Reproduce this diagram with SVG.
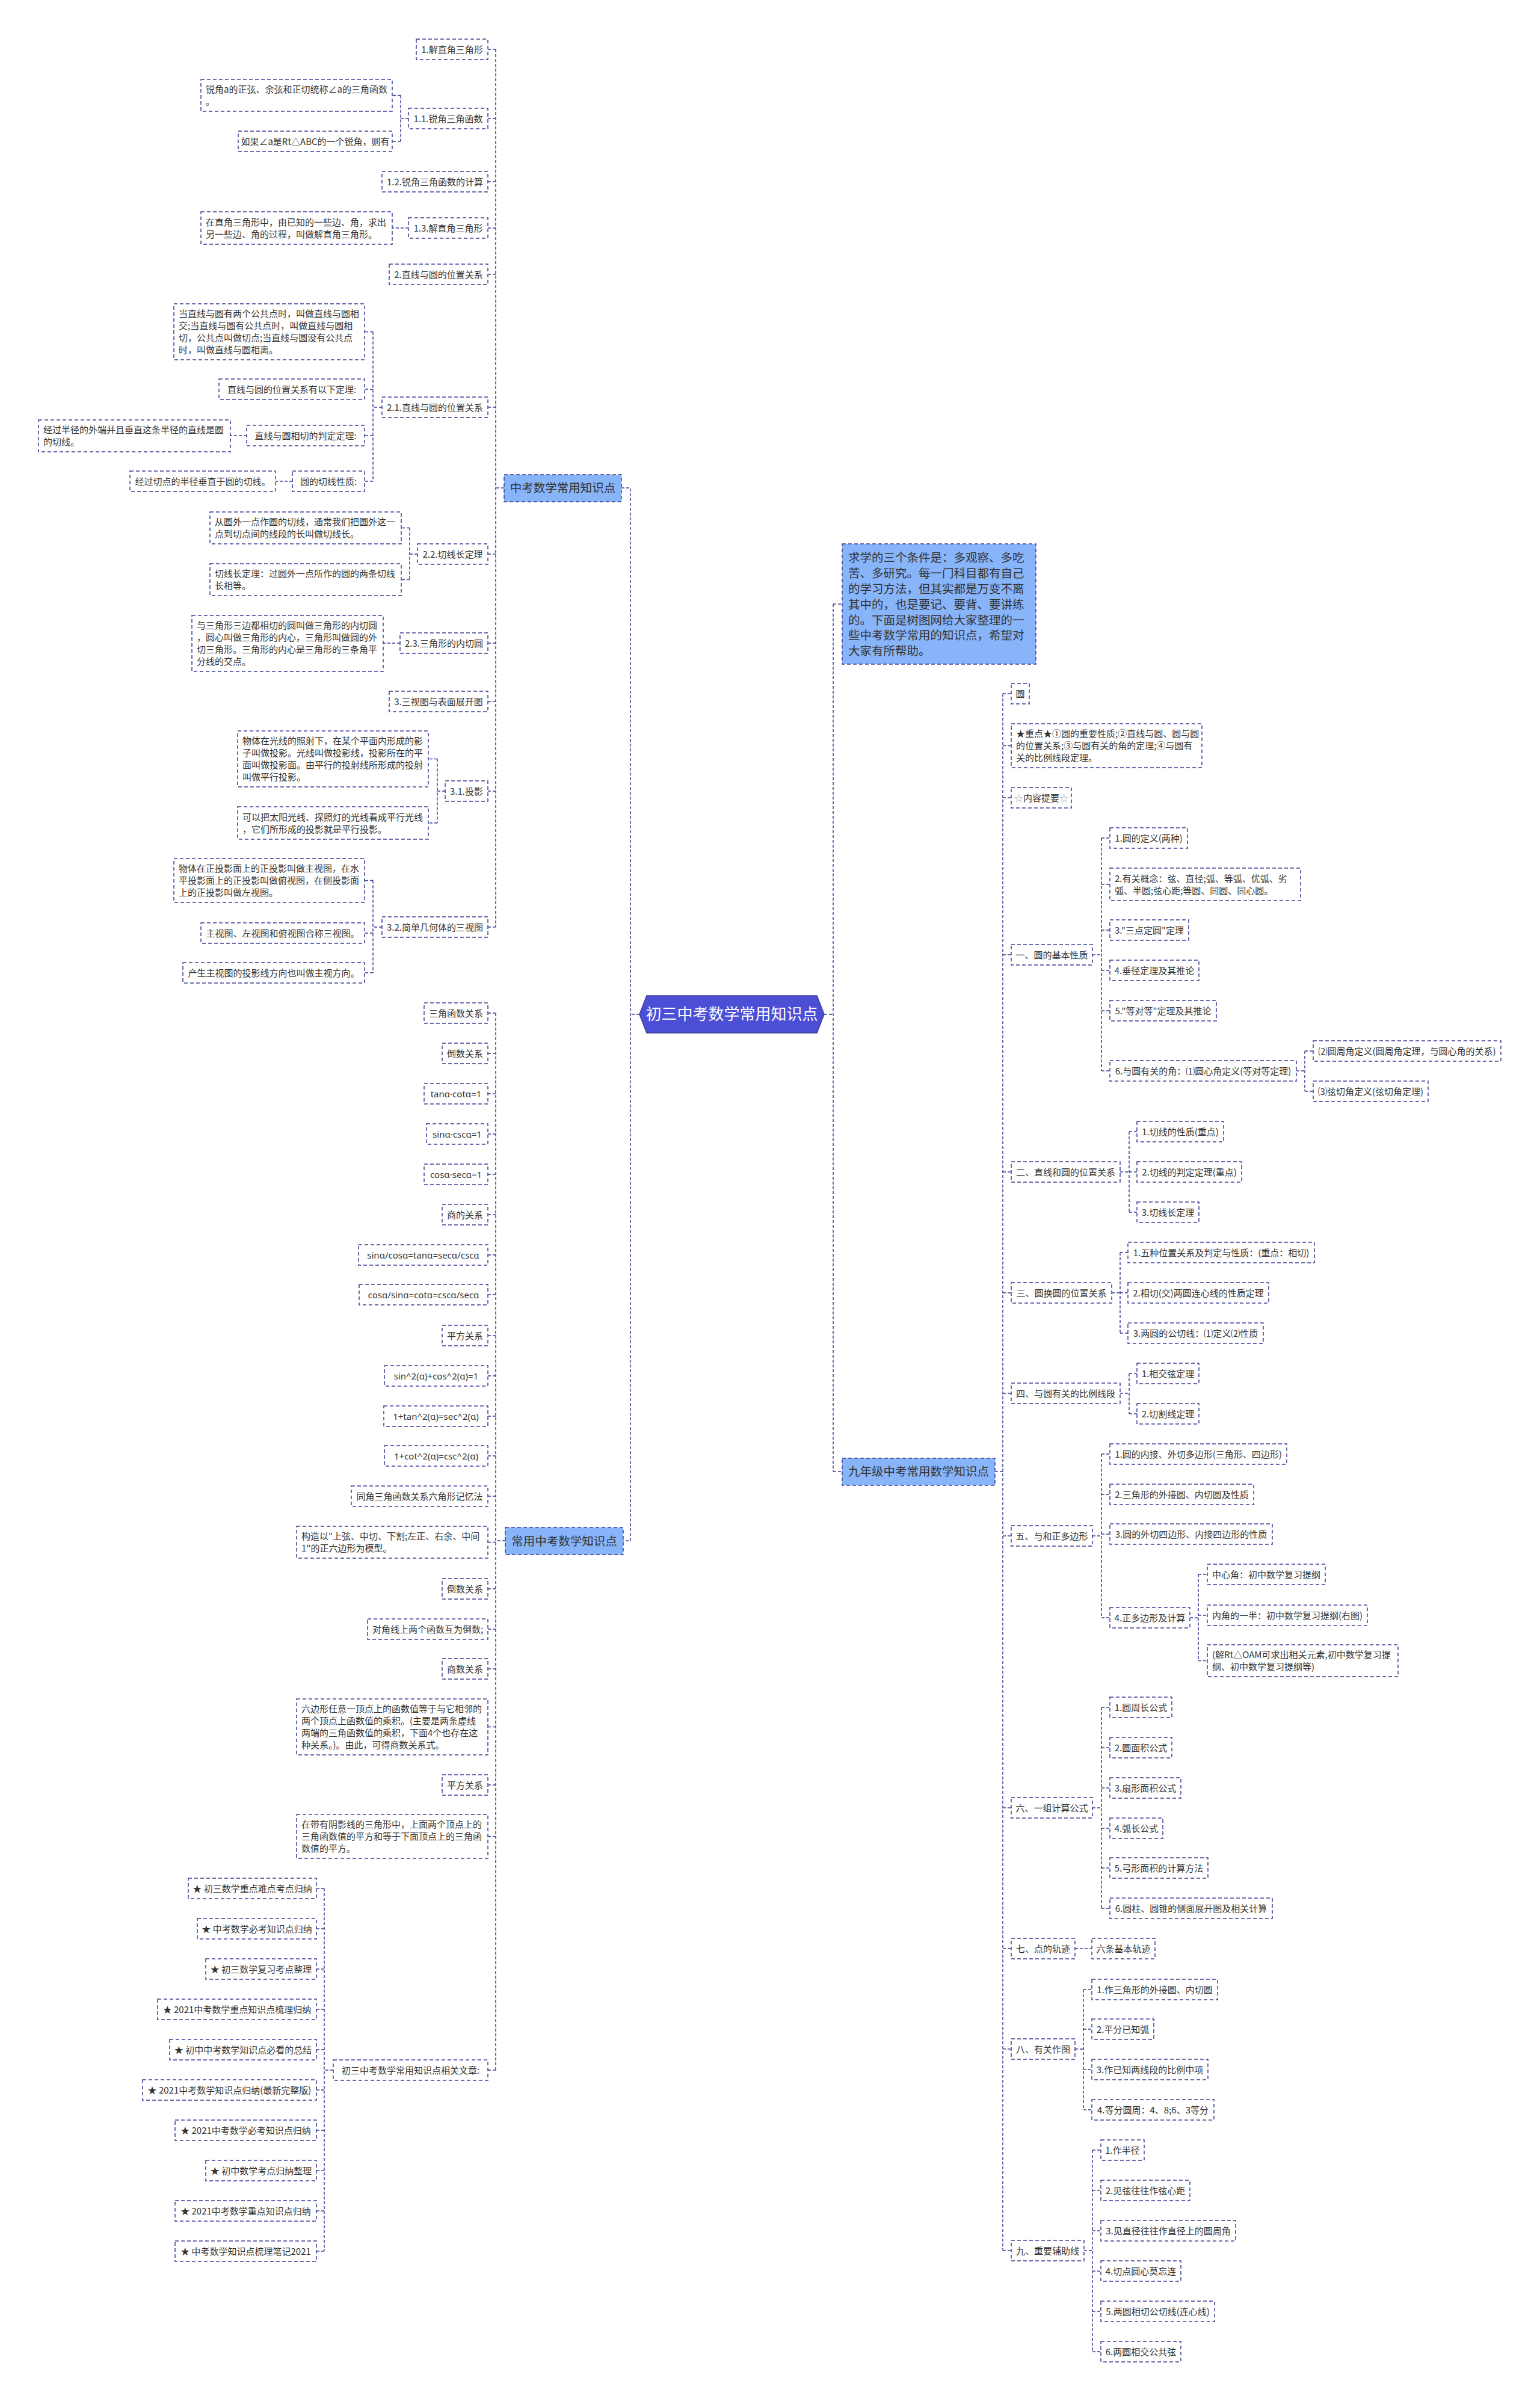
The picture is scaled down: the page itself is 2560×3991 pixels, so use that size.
<svg xmlns="http://www.w3.org/2000/svg" width="2560" height="3991" viewBox="0 0 2560 3991">
<style>
.n{fill:#fff;stroke:#3d3d94;stroke-width:1.5;stroke-dasharray:6 4}
.b{fill:#88b4fa;stroke:#3d3d94;stroke-width:1.5;stroke-dasharray:6 4}
.t{font-family:"Noto Sans CJK SC","Noto Sans",sans-serif;font-size:15px;fill:#333}
.f{font-family:"Noto Sans","Liberation Sans",sans-serif;font-size:15px;fill:#333}
.m{text-anchor:middle}
.bt{font-family:"Noto Sans CJK SC","Noto Sans",sans-serif;font-size:19.5px;fill:#333}
.c{fill:none;stroke:#3d3d94;stroke-width:1.5;stroke-dasharray:5 3}
.g{fill:#aaa}
</style>
<rect width="2560" height="3991" fill="#fff"/>
<g id="connectors" class="c">
<path d="M838 811H824M824 82V1541M824 82H811M824 197H811M824 302H811M824 379H811M824 456H811M824 677H811M824 921H811M824 1069H811M824 1166H811M824 1315H811M824 1541H811"/>
<path d="M679 197H666M666 158.5V235M666 158.5H652M666 235H652M679 379H652"/>
<path d="M635 677H620M620 551.5V800M620 551.5H606M620 647H606M620 724H606M620 800H606M410 724H383M486 800H458"/>
<path d="M694 921H681M681 877.5V963.5M681 877.5H667M681 963.5H667M665 1069H637"/>
<path d="M740 1315H727M727 1261.5V1368M727 1261.5H712M727 1368H712"/>
<path d="M635 1541H620M620 1463.5V1617M620 1463.5H606M620 1551H606M620 1617H606"/>
<path d="M1033 811H1048V2561H1036M1063 1686H1048"/>
<path d="M840 2561H824M824 1684V3441M824 1684H811M824 1751H811M824 1818H811M824 1885H811M824 1952H811M824 2019H811M824 2086H811M824 2152H811M824 2220H811M824 2287H811M824 2354H811M824 2420H811M824 2487H811M824 2563.5H811M824 2641H811M824 2708H811M824 2774H811M824 2870.5H811M824 2967H811M824 3052.5H811M824 3441H811"/>
<path d="M554 3441H539M539 3139V3742M539 3139H526M539 3206H526M539 3273H526M539 3340H526M539 3407H526M539 3474H526M539 3541H526M539 3608H526M539 3675H526M539 3742H526"/>
<path d="M1370 1686H1385M1385 1004V2446M1385 1004H1400M1385 2446H1400"/>
<path d="M1654 2446H1667M1667 1153V3741M1667 1153H1681M1667 1239.5H1681M1667 1326H1681M1667 1587H1681M1667 1948H1681M1667 2149H1681M1667 2316H1681M1667 2553H1681M1667 3005H1681M1667 3239H1681M1667 3406H1681M1667 3741H1681"/>
<path d="M1816 1587H1831M1831 1393V1780M1831 1393H1845M1831 1470H1845M1831 1546H1845M1831 1613H1845M1831 1680H1845M1831 1780H1845"/>
<path d="M2155 1780H2169M2169 1747V1814M2169 1747H2183M2169 1814H2183"/>
<path d="M1862 1948H1877M1877 1881V2015M1877 1881H1890M1877 2015H1890M1877 1948H1890"/>
<path d="M1848 2149H1862M1862 2082V2216M1862 2082H1875M1862 2149H1875M1862 2216H1875"/>
<path d="M1862 2316H1877M1877 2283V2350M1877 2283H1890M1877 2350H1890"/>
<path d="M1816 2553H1831M1831 2417V2689M1831 2417H1845M1831 2484H1845M1831 2550H1845M1831 2689H1845"/>
<path d="M1978 2689H1992M1992 2617V2760.5M1992 2617H2007M1992 2685H2007M1992 2760.5H2007"/>
<path d="M1816 3005H1831M1831 2838V3172M1831 2838H1845M1831 2905H1845M1831 2972H1845M1831 3039H1845M1831 3105H1845M1831 3172H1845"/>
<path d="M1787 3239H1815"/>
<path d="M1787 3406H1801M1801 3307V3507M1801 3307H1815M1801 3373H1815M1801 3440H1815M1801 3507H1815"/>
<path d="M1802 3741H1816M1816 3574V3909M1816 3574H1830M1816 3641H1830M1816 3708H1830M1816 3775H1830M1816 3842H1830M1816 3909H1830"/>
</g>

<g id="center"><polygon points="1063,1686 1075,1655 1358,1655 1370,1686 1358,1717 1075,1717" fill="#4a4fd6" stroke="#3d3d94" stroke-width="1.5"/><text x="1216.5" y="1695" text-anchor="middle" style="font-family:'Noto Sans CJK SC',sans-serif;font-size:26px;fill:#fff">初三中考数学常用知识点</text></g>

<g id="b1"><rect class="b" x="838" y="789" width="195" height="45"/><text class="bt m" x="935.5" y="818">中考数学常用知识点</text></g>
<g id="b2"><rect class="b" x="840" y="2539" width="196" height="45"/><text class="bt m" x="938" y="2568.5">常用中考数学知识点</text></g>
<g id="b3"><rect class="b" x="1400" y="2424" width="254" height="45"/><text class="bt m" x="1527" y="2453">九年级中考常用数学知识点</text></g>
<g id="intro"><rect class="b" x="1400" y="904" width="322" height="200"/><text class="bt" x="1410"><tspan x="1410" y="934">求学的三个条件是：多观察、多吃</tspan><tspan x="1410" y="960">苦、多研究。每一门科目都有自己</tspan><tspan x="1410" y="986">的学习方法，但其实都是万变不离</tspan><tspan x="1410" y="1012">其中的，也是要记、要背、要讲练</tspan><tspan x="1410" y="1038">的。下面是树图网给大家整理的一</tspan><tspan x="1410" y="1063">些中考数学常用的知识点，希望对</tspan><tspan x="1410" y="1089">大家有所帮助。</tspan></text></g>

<g id="L1"><rect class="n" x="692" y="65" width="119" height="34"/><text class="t m" x="751.5" y="87.5">1.解直角三角形</text></g>
<g id="L11"><rect class="n" x="679" y="180" width="132" height="34"/><text class="t m" x="745" y="202.5">1.1.锐角三角函数</text></g>
<g id="L11a"><rect class="n" x="334" y="132" width="318" height="53"/><text class="t"><tspan x="342" y="154">锐角a的正弦、余弦和正切统称∠a的三角函数</tspan><tspan x="342" y="174">。</tspan></text></g>
<g id="L11b"><rect class="n" x="396" y="218" width="256" height="34"/><text class="t m" x="524" y="240.5">如果∠a是Rt△ABC的一个锐角，则有</text></g>
<g id="L12"><rect class="n" x="635" y="285" width="176" height="34"/><text class="t m" x="723" y="307.5">1.2.锐角三角函数的计算</text></g>
<g id="L13"><rect class="n" x="679" y="362" width="132" height="34"/><text class="t m" x="745" y="384.5">1.3.解直角三角形</text></g>
<g id="L13a"><rect class="n" x="334" y="352" width="318" height="54"/><text class="t"><tspan x="342" y="374.5">在直角三角形中，由已知的一些边、角，求出</tspan><tspan x="342" y="394.5">另一些边、角的过程，叫做解直角三角形。</tspan></text></g>
<g id="L2"><rect class="n" x="647" y="439" width="164" height="34"/><text class="t m" x="729" y="461.5">2.直线与圆的位置关系</text></g>
<g id="L21"><rect class="n" x="635" y="660" width="176" height="34"/><text class="t m" x="723" y="682.5">2.1.直线与圆的位置关系</text></g>
<g id="L21a"><rect class="n" x="289" y="505" width="317" height="93"/><text class="t"><tspan x="297" y="527">当直线与圆有两个公共点时，叫做直线与圆相</tspan><tspan x="297" y="547">交;当直线与圆有公共点时，叫做直线与圆相</tspan><tspan x="297" y="567">切，公共点叫做切点;当直线与圆没有公共点</tspan><tspan x="297" y="587">时，叫做直线与圆相离。</tspan></text></g>
<g id="L21b"><rect class="n" x="364" y="630" width="242" height="34"/><text class="t m" x="485" y="652.5">直线与圆的位置关系有以下定理:</text></g>
<g id="L21c"><rect class="n" x="410" y="707" width="196" height="34"/><text class="t m" x="508" y="729.5">直线与圆相切的判定定理:</text></g>
<g id="L21c1"><rect class="n" x="64" y="698" width="319" height="53"/><text class="t"><tspan x="72" y="720">经过半径的外端并且垂直这条半径的直线是圆</tspan><tspan x="72" y="740">的切线。</tspan></text></g>
<g id="L21d"><rect class="n" x="486" y="783" width="120" height="34"/><text class="t m" x="546" y="805.5">圆的切线性质:</text></g>
<g id="L21d1"><rect class="n" x="216" y="783" width="242" height="34"/><text class="t m" x="337" y="805.5">经过切点的半径垂直于圆的切线。</text></g>
<g id="L22"><rect class="n" x="694" y="904" width="117" height="34"/><text class="t m" x="752.5" y="926.5">2.2.切线长定理</text></g>
<g id="L22a"><rect class="n" x="349" y="851" width="318" height="53"/><text class="t"><tspan x="357" y="873">从圆外一点作圆的切线，通常我们把圆外这一</tspan><tspan x="357" y="893">点到切点间的线段的长叫做切线长。</tspan></text></g>
<g id="L22b"><rect class="n" x="349" y="937" width="318" height="53"/><text class="t"><tspan x="357" y="959">切线长定理：过圆外一点所作的圆的两条切线</tspan><tspan x="357" y="979">长相等。</tspan></text></g>
<g id="L23"><rect class="n" x="665" y="1052" width="146" height="34"/><text class="t m" x="738" y="1074.5">2.3.三角形的内切圆</text></g>
<g id="L23a"><rect class="n" x="319" y="1023" width="318" height="93"/><text class="t"><tspan x="327" y="1045">与三角形三边都相切的圆叫做三角形的内切圆</tspan><tspan x="327" y="1065">，圆心叫做三角形的内心，三角形叫做圆的外</tspan><tspan x="327" y="1085">切三角形。三角形的内心是三角形的三条角平</tspan><tspan x="327" y="1105">分线的交点。</tspan></text></g>
<g id="L3"><rect class="n" x="647" y="1149" width="164" height="34"/><text class="t m" x="729" y="1171.5">3.三视图与表面展开图</text></g>
<g id="L31"><rect class="n" x="740" y="1298" width="71" height="34"/><text class="t m" x="775.5" y="1320.5">3.1.投影</text></g>
<g id="L31a"><rect class="n" x="395" y="1215" width="317" height="93"/><text class="t"><tspan x="403" y="1237">物体在光线的照射下，在某个平面内形成的影</tspan><tspan x="403" y="1257">子叫做投影。光线叫做投影线，投影所在的平</tspan><tspan x="403" y="1277">面叫做投影面。由平行的投射线所形成的投射</tspan><tspan x="403" y="1297">叫做平行投影。</tspan></text></g>
<g id="L31b"><rect class="n" x="395" y="1341" width="317" height="54"/><text class="t"><tspan x="403" y="1363.5">可以把太阳光线、探照灯的光线看成平行光线</tspan><tspan x="403" y="1383.5">，它们所形成的投影就是平行投影。</tspan></text></g>
<g id="L32"><rect class="n" x="635" y="1524" width="176" height="34"/><text class="t m" x="723" y="1546.5">3.2.简单几何体的三视图</text></g>
<g id="L32a"><rect class="n" x="289" y="1427" width="317" height="73"/><text class="t"><tspan x="297" y="1449">物体在正投影面上的正投影叫做主视图，在水</tspan><tspan x="297" y="1469">平投影面上的正投影叫做俯视图，在侧投影面</tspan><tspan x="297" y="1489">上的正投影叫做左视图。</tspan></text></g>
<g id="L32b"><rect class="n" x="334" y="1534" width="272" height="34"/><text class="t m" x="470" y="1556.5">主视图、左视图和俯视图合称三视图。</text></g>
<g id="L32c"><rect class="n" x="304" y="1600" width="302" height="34"/><text class="t m" x="455" y="1622.5">产生主视图的投影线方向也叫做主视方向。</text></g>

<g id="S1"><rect class="n" x="705" y="1667" width="106" height="34"/><text class="t m" x="758" y="1689.5">三角函数关系</text></g>
<g id="S2"><rect class="n" x="735" y="1734" width="76" height="34"/><text class="t m" x="773" y="1756.5">倒数关系</text></g>
<g id="S3"><rect class="n" x="705" y="1801" width="106" height="34"/><text class="f m" x="758" y="1823.5">tanα·cotα=1</text></g>
<g id="S4"><rect class="n" x="709" y="1868" width="102" height="34"/><text class="f m" x="760" y="1890.5">sinα·cscα=1</text></g>
<g id="S5"><rect class="n" x="705" y="1935" width="106" height="34"/><text class="f m" x="758" y="1957.5">cosα·secα=1</text></g>
<g id="S6"><rect class="n" x="735" y="2002" width="76" height="34"/><text class="t m" x="773" y="2024.5">商的关系</text></g>
<g id="S7"><rect class="n" x="596" y="2069" width="215" height="34"/><text class="f m" x="703.5" y="2091.5">sinα/cosα=tanα=secα/cscα</text></g>
<g id="S8"><rect class="n" x="597" y="2135" width="214" height="34"/><text class="f m" x="704" y="2157.5">cosα/sinα=cotα=cscα/secα</text></g>
<g id="S9"><rect class="n" x="735" y="2203" width="76" height="34"/><text class="t m" x="773" y="2225.5">平方关系</text></g>
<g id="S10"><rect class="n" x="639" y="2270" width="172" height="34"/><text class="f m" x="725" y="2292.5">sin^2(α)+cos^2(α)=1</text></g>
<g id="S11"><rect class="n" x="638" y="2337" width="173" height="34"/><text class="f m" x="724.5" y="2359.5">1+tan^2(α)=sec^2(α)</text></g>
<g id="S12"><rect class="n" x="639" y="2403" width="172" height="34"/><text class="f m" x="725" y="2425.5">1+cot^2(α)=csc^2(α)</text></g>
<g id="S13"><rect class="n" x="584" y="2470" width="227" height="34"/><text class="t m" x="697.5" y="2492.5">同角三角函数关系六角形记忆法</text></g>
<g id="S14"><rect class="n" x="493" y="2537" width="318" height="53"/><text class="t"><tspan x="501" y="2559">构造以"上弦、中切、下割;左正、右余、中间</tspan><tspan x="501" y="2579">1"的正六边形为模型。</tspan></text></g>
<g id="S15"><rect class="n" x="735" y="2624" width="76" height="34"/><text class="t m" x="773" y="2646.5">倒数关系</text></g>
<g id="S16"><rect class="n" x="611" y="2691" width="200" height="34"/><text class="t m" x="711" y="2713.5">对角线上两个函数互为倒数;</text></g>
<g id="S17"><rect class="n" x="735" y="2757" width="76" height="34"/><text class="t m" x="773" y="2779.5">商数关系</text></g>
<g id="S18"><rect class="n" x="493" y="2824" width="318" height="93"/><text class="t"><tspan x="501" y="2846">六边形任意一顶点上的函数值等于与它相邻的</tspan><tspan x="501" y="2866">两个顶点上函数值的乘积。(主要是两条虚线</tspan><tspan x="501" y="2886">两端的三角函数值的乘积，下面4个也存在这</tspan><tspan x="501" y="2906">种关系。)。由此，可得商数关系式。</tspan></text></g>
<g id="S19"><rect class="n" x="735" y="2950" width="76" height="34"/><text class="t m" x="773" y="2972.5">平方关系</text></g>
<g id="S20"><rect class="n" x="493" y="3016" width="318" height="73"/><text class="t"><tspan x="501" y="3038">在带有阴影线的三角形中，上面两个顶点上的</tspan><tspan x="501" y="3058">三角函数值的平方和等于下面顶点上的三角函</tspan><tspan x="501" y="3078">数值的平方。</tspan></text></g>
<g id="S21"><rect class="n" x="554" y="3424" width="257" height="34"/><text class="t m" x="682.5" y="3446.5">初三中考数学常用知识点相关文章:</text></g>

<g id="A1"><rect class="n" x="313" y="3122" width="213" height="34"/><text class="t m" x="419.5" y="3144.5">★ 初三数学重点难点考点归纳</text></g>
<g id="A2"><rect class="n" x="328" y="3189" width="198" height="34"/><text class="t m" x="427" y="3211.5">★ 中考数学必考知识点归纳</text></g>
<g id="A3"><rect class="n" x="342" y="3256" width="184" height="34"/><text class="t m" x="434" y="3278.5">★ 初三数学复习考点整理</text></g>
<g id="A4"><rect class="n" x="262" y="3323" width="264" height="34"/><text class="t m" x="394" y="3345.5">★ 2021中考数学重点知识点梳理归纳</text></g>
<g id="A5"><rect class="n" x="282" y="3390" width="244" height="34"/><text class="t m" x="404" y="3412.5">★ 初中中考数学知识点必看的总结</text></g>
<g id="A6"><rect class="n" x="237" y="3457" width="289" height="34"/><text class="t m" x="381.5" y="3479.5">★ 2021中考数学知识点归纳(最新完整版)</text></g>
<g id="A7"><rect class="n" x="291" y="3524" width="235" height="34"/><text class="t m" x="408.5" y="3546.5">★ 2021中考数学必考知识点归纳</text></g>
<g id="A8"><rect class="n" x="342" y="3591" width="184" height="34"/><text class="t m" x="434" y="3613.5">★ 初中数学考点归纳整理</text></g>
<g id="A9"><rect class="n" x="291" y="3658" width="235" height="34"/><text class="t m" x="408.5" y="3680.5">★ 2021中考数学重点知识点归纳</text></g>
<g id="A10"><rect class="n" x="291" y="3725" width="235" height="34"/><text class="t m" x="408.5" y="3747.5">★ 中考数学知识点梳理笔记2021</text></g>

<g id="R0"><rect class="n" x="1681" y="1136" width="30" height="34"/><text class="t m" x="1696" y="1158.5">圆</text></g>
<g id="R1"><rect class="n" x="1681" y="1203" width="317" height="73"/><text class="t"><tspan x="1689" y="1225">★重点★①圆的重要性质;②直线与圆、圆与圆</tspan><tspan x="1689" y="1245">的位置关系;③与圆有关的角的定理;④与圆有</tspan><tspan x="1689" y="1265">关的比例线段定理。</tspan></text></g>
<g id="R2"><rect class="n" x="1681" y="1309" width="100" height="34"/><text class="t m" x="1731" y="1331.5"><tspan class="g">☆</tspan>内容提要<tspan class="g">☆</tspan></text></g>
<g id="R3"><rect class="n" x="1681" y="1570" width="135" height="34"/><text class="t m" x="1748.5" y="1592.5">一、圆的基本性质</text></g>
<g id="R31"><rect class="n" x="1845" y="1376" width="129" height="34"/><text class="t m" x="1909.5" y="1398.5">1.圆的定义(两种)</text></g>
<g id="R32"><rect class="n" x="1845" y="1443" width="317" height="54"/><text class="t"><tspan x="1853" y="1465.5">2.有关概念：弦、直径;弧、等弧、优弧、劣</tspan><tspan x="1853" y="1485.5">弧、半圆;弦心距;等圆、同圆、同心圆。</tspan></text></g>
<g id="R33"><rect class="n" x="1845" y="1529" width="131" height="34"/><text class="t m" x="1910.5" y="1551.5">3."三点定圆"定理</text></g>
<g id="R34"><rect class="n" x="1845" y="1596" width="148" height="34"/><text class="t m" x="1919" y="1618.5">4.垂径定理及其推论</text></g>
<g id="R35"><rect class="n" x="1845" y="1663" width="177" height="34"/><text class="t m" x="1933.5" y="1685.5">5."等对等"定理及其推论</text></g>
<g id="R36"><rect class="n" x="1845" y="1763" width="310" height="34"/><text class="t m" x="2000" y="1785.5">6.与圆有关的角：⑴圆心角定义(等对等定理)</text></g>
<g id="R361"><rect class="n" x="2183" y="1730" width="312" height="34"/><text class="t m" x="2339" y="1752.5">⑵圆周角定义(圆周角定理，与圆心角的关系)</text></g>
<g id="R362"><rect class="n" x="2183" y="1797" width="191" height="34"/><text class="t m" x="2278.5" y="1819.5">⑶弦切角定义(弦切角定理)</text></g>
<g id="R4"><rect class="n" x="1681" y="1931" width="181" height="34"/><text class="t m" x="1771.5" y="1953.5">二、直线和圆的位置关系</text></g>
<g id="R41"><rect class="n" x="1890" y="1864" width="144" height="34"/><text class="t m" x="1962" y="1886.5">1.切线的性质(重点)</text></g>
<g id="R42"><rect class="n" x="1890" y="1931" width="174" height="34"/><text class="t m" x="1977" y="1953.5">2.切线的判定定理(重点)</text></g>
<g id="R43"><rect class="n" x="1890" y="1998" width="103" height="34"/><text class="t m" x="1941.5" y="2020.5">3.切线长定理</text></g>
<g id="R5"><rect class="n" x="1681" y="2132" width="167" height="34"/><text class="t m" x="1764.5" y="2154.5">三、圆换圆的位置关系</text></g>
<g id="R51"><rect class="n" x="1875" y="2065" width="310" height="34"/><text class="t m" x="2030" y="2087.5">1.五种位置关系及判定与性质：(重点：相切)</text></g>
<g id="R52"><rect class="n" x="1875" y="2132" width="234" height="34"/><text class="t m" x="1992" y="2154.5">2.相切(交)两圆连心线的性质定理</text></g>
<g id="R53"><rect class="n" x="1875" y="2199" width="225" height="34"/><text class="t m" x="1987.5" y="2221.5">3.两圆的公切线：⑴定义⑵性质</text></g>
<g id="R6"><rect class="n" x="1681" y="2299" width="181" height="34"/><text class="t m" x="1771.5" y="2321.5">四、与圆有关的比例线段</text></g>
<g id="R61"><rect class="n" x="1890" y="2266" width="103" height="34"/><text class="t m" x="1941.5" y="2288.5">1.相交弦定理</text></g>
<g id="R62"><rect class="n" x="1890" y="2333" width="103" height="34"/><text class="t m" x="1941.5" y="2355.5">2.切割线定理</text></g>
<g id="R7"><rect class="n" x="1681" y="2536" width="135" height="34"/><text class="t m" x="1748.5" y="2558.5">五、与和正多边形</text></g>
<g id="R71"><rect class="n" x="1845" y="2400" width="294" height="34"/><text class="t m" x="1992" y="2422.5">1.圆的内接、外切多边形(三角形、四边形)</text></g>
<g id="R72"><rect class="n" x="1845" y="2467" width="239" height="34"/><text class="t m" x="1964.5" y="2489.5">2.三角形的外接圆、内切圆及性质</text></g>
<g id="R73"><rect class="n" x="1845" y="2533" width="270" height="34"/><text class="t m" x="1980" y="2555.5">3.圆的外切四边形、内接四边形的性质</text></g>
<g id="R74"><rect class="n" x="1845" y="2672" width="133" height="34"/><text class="t m" x="1911.5" y="2694.5">4.正多边形及计算</text></g>
<g id="R741"><rect class="n" x="2007" y="2600" width="196" height="34"/><text class="t m" x="2105" y="2622.5">中心角：初中数学复习提纲</text></g>
<g id="R742"><rect class="n" x="2007" y="2668" width="266" height="34"/><text class="t m" x="2140" y="2690.5">内角的一半：初中数学复习提纲(右图)</text></g>
<g id="R743"><rect class="n" x="2007" y="2734" width="317" height="53"/><text class="t"><tspan x="2015" y="2756">(解Rt△OAM可求出相关元素,初中数学复习提</tspan><tspan x="2015" y="2776">纲、初中数学复习提纲等)</tspan></text></g>
<g id="R8"><rect class="n" x="1681" y="2988" width="135" height="34"/><text class="t m" x="1748.5" y="3010.5">六、一组计算公式</text></g>
<g id="R81"><rect class="n" x="1845" y="2821" width="103" height="34"/><text class="t m" x="1896.5" y="2843.5">1.圆周长公式</text></g>
<g id="R82"><rect class="n" x="1845" y="2888" width="103" height="34"/><text class="t m" x="1896.5" y="2910.5">2.圆面积公式</text></g>
<g id="R83"><rect class="n" x="1845" y="2955" width="118" height="34"/><text class="t m" x="1904" y="2977.5">3.扇形面积公式</text></g>
<g id="R84"><rect class="n" x="1845" y="3022" width="88" height="34"/><text class="t m" x="1889" y="3044.5">4.弧长公式</text></g>
<g id="R85"><rect class="n" x="1845" y="3088" width="163" height="34"/><text class="t m" x="1926.5" y="3110.5">5.弓形面积的计算方法</text></g>
<g id="R86"><rect class="n" x="1845" y="3155" width="270" height="34"/><text class="t m" x="1980" y="3177.5">6.圆柱、圆锥的侧面展开图及相关计算</text></g>
<g id="R9"><rect class="n" x="1681" y="3222" width="106" height="34"/><text class="t m" x="1734" y="3244.5">七、点的轨迹</text></g>
<g id="R91"><rect class="n" x="1815" y="3222" width="105" height="34"/><text class="t m" x="1867.5" y="3244.5">六条基本轨迹</text></g>
<g id="R10"><rect class="n" x="1681" y="3389" width="106" height="34"/><text class="t m" x="1734" y="3411.5">八、有关作图</text></g>
<g id="R101"><rect class="n" x="1815" y="3290" width="209" height="34"/><text class="t m" x="1919.5" y="3312.5">1.作三角形的外接圆、内切圆</text></g>
<g id="R102"><rect class="n" x="1815" y="3356" width="103" height="34"/><text class="t m" x="1866.5" y="3378.5">2.平分已知弧</text></g>
<g id="R103"><rect class="n" x="1815" y="3423" width="193" height="34"/><text class="t m" x="1911.5" y="3445.5">3.作已知两线段的比例中项</text></g>
<g id="R104"><rect class="n" x="1815" y="3490" width="203" height="34"/><text class="t m" x="1916.5" y="3512.5">4.等分圆周：4、8;6、3等分</text></g>
<g id="R11"><rect class="n" x="1681" y="3724" width="121" height="34"/><text class="t m" x="1741.5" y="3746.5">九、重要辅助线</text></g>
<g id="R111"><rect class="n" x="1830" y="3557" width="72" height="34"/><text class="t m" x="1866" y="3579.5">1.作半径</text></g>
<g id="R112"><rect class="n" x="1830" y="3624" width="148" height="34"/><text class="t m" x="1904" y="3646.5">2.见弦往往作弦心距</text></g>
<g id="R113"><rect class="n" x="1830" y="3691" width="224" height="34"/><text class="t m" x="1942" y="3713.5">3.见直径往往作直径上的圆周角</text></g>
<g id="R114"><rect class="n" x="1830" y="3758" width="133" height="34"/><text class="t m" x="1896.5" y="3780.5">4.切点圆心莫忘连</text></g>
<g id="R115"><rect class="n" x="1830" y="3825" width="189" height="34"/><text class="t m" x="1924.5" y="3847.5">5.两圆相切公切线(连心线)</text></g>
<g id="R116"><rect class="n" x="1830" y="3892" width="133" height="34"/><text class="t m" x="1896.5" y="3914.5">6.两圆相交公共弦</text></g>
</svg>
